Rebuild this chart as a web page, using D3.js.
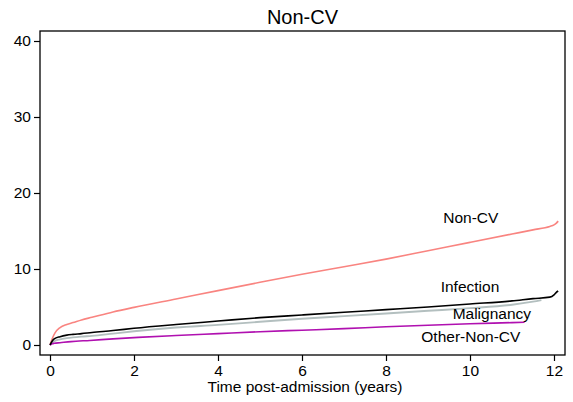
<!DOCTYPE html>
<html><head><meta charset="utf-8">
<script src="https://cdn.jsdelivr.net/npm/d3@7"></script>
<style>body{margin:0;background:#fff}svg{display:block}text{font-family:"Liberation Sans",Arial,sans-serif}</style>
</head><body><svg id="c" width="573" height="402"></svg>
<script>
const title = "Non-CV";
const xLabel = "Time post-admission (years)";
const xTicks = [0, 2, 4, 6, 8, 10, 12];
const yTicks = [0, 10, 20, 30, 40];
const seriesNames = ["Non-CV", "Infection", "Malignancy", "Other-Non-CV"];
const seriesColors = ["#f98480", "#000000", "#b3bfbf", "#b010b0"];

const tNonCV = [0, 0.05, 0.12, 0.24, 0.4, 0.55, 0.75, 1, 1.5, 2, 3, 4, 5, 6, 7, 8, 9, 10, 11, 11.5, 11.9, 12.0, 12.05, 12.1];
const vNonCV = [0, 0.8, 1.6, 2.3, 2.7, 2.95, 3.3, 3.65, 4.35, 4.95, 6.05, 7.15, 8.25, 9.3, 10.3, 11.3, 12.4, 13.5, 14.6, 15.15, 15.6, 15.8, 16.0, 16.3];

const tInfection = [0, 0.05, 0.1, 0.24, 0.4, 0.55, 0.75, 1, 1.5, 2, 3, 4, 5, 6, 7, 8, 9, 10, 11, 11.5, 11.9, 12.0, 12.05, 12.1];
const vInfection = [0, 0.5, 0.8, 1.1, 1.3, 1.4, 1.5, 1.65, 1.9, 2.2, 2.7, 3.15, 3.6, 3.95, 4.3, 4.65, 5.0, 5.4, 5.8, 6.1, 6.3, 6.6, 6.9, 7.1];

const tMalignancy = [0, 0.05, 0.1, 0.24, 0.4, 0.55, 0.75, 1, 1.5, 2, 3, 4, 5, 6, 7, 8, 9, 10, 11, 11.5, 11.7];
const vMalignancy = [0, 0.3, 0.5, 0.75, 0.9, 1.0, 1.1, 1.2, 1.5, 1.8, 2.3, 2.65, 3.05, 3.45, 3.8, 4.15, 4.5, 4.85, 5.3, 5.7, 5.9];

const tOther = [0, 0.05, 0.1, 0.24, 0.5, 0.95, 1.5, 2.1, 3, 4, 5, 6, 7, 8, 9, 10, 11, 11.3];
const vOther = [0, 0.15, 0.22, 0.3, 0.45, 0.6, 0.8, 1.0, 1.25, 1.5, 1.75, 1.95, 2.15, 2.4, 2.6, 2.8, 2.95, 3.0];

const labelPos = [[10.02, 16.05], [10.0, 7.0], [10.52, 3.4], [10.02, 0.4]];

const svg = d3.select("#c");
const L = 40, R = 565, T = 31, B = 355;
const x = d3.scaleLinear().domain([-0.238, 12.262]).range([L, R]);
const y = d3.scaleLinear().domain([-1.316, 41.316]).range([B, T]);

const series = [
  {name: seriesNames[0], t: tNonCV, v: vNonCV, color: seriesColors[0]},
  {name: seriesNames[1], t: tInfection, v: vInfection, color: seriesColors[1]},
  {name: seriesNames[2], t: tMalignancy, v: vMalignancy, color: seriesColors[2]},
  {name: seriesNames[3], t: tOther, v: vOther, color: seriesColors[3]}
];
const line = d3.line().x(d => x(d[0])).y(d => y(d[1])).curve(d3.curveMonotoneX);
const drawOrder = [0, 2, 3, 1];
drawOrder.forEach(i => {
  const s = series[i];
  svg.append("path").datum(s.t.map((t, j) => [t, s.v[j]]))
    .attr("d", line).attr("fill", "none").attr("stroke", s.color).attr("stroke-width", i === 2 ? 1.9 : 1.6);
});

// frame
svg.append("rect").attr("x", L).attr("y", T).attr("width", R - L).attr("height", B - T)
  .attr("fill", "none").attr("stroke", "#000").attr("stroke-width", 1.3);

const xa = svg.append("g").attr("transform", `translate(0,${B})`)
  .call(d3.axisBottom(x).tickValues(xTicks).tickSize(6).tickPadding(4).tickFormat(d3.format("d")));
const ya = svg.append("g").attr("transform", `translate(${L},0)`)
  .call(d3.axisLeft(y).tickValues(yTicks).tickSize(6).tickPadding(3).tickFormat(d3.format("d")));
[xa, ya].forEach(a => {
  a.select(".domain").remove();
  a.selectAll("line").attr("stroke", "#000").attr("stroke-width", 1.2);
  a.selectAll("text").attr("fill", "#000").style("font-size", "15.5px").style("font-family", '"Liberation Sans",Arial,sans-serif');
});

svg.append("text").attr("x", (L + R) / 2).attr("y", 24).attr("text-anchor", "middle")
  .style("font-size", "20px").attr("fill", "#000").text(title);
svg.append("text").attr("x", 305).attr("y", 392).attr("text-anchor", "middle")
  .style("font-size", "15.5px").attr("fill", "#000").text(xLabel);

series.forEach((s, i) => {
  svg.append("text").attr("x", x(labelPos[i][0])).attr("y", y(labelPos[i][1]))
    .attr("text-anchor", "middle").style("font-size", "15.5px").attr("fill", "#000").text(s.name);
});
</script></body></html>
